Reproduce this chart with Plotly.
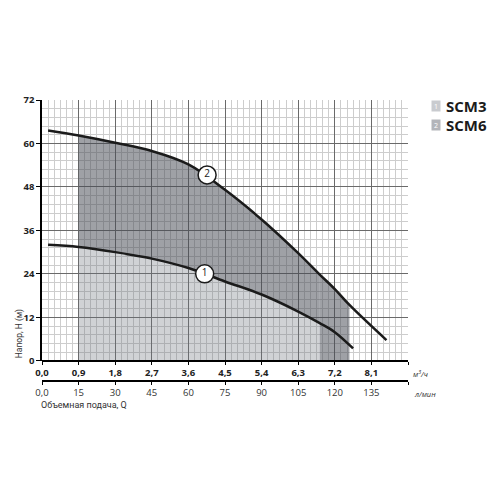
import numpy as np
import plotly.graph_objects as go

# pump curves, Q in m3/h, H in m
q_scm3 = [0.15, 0.9, 1.8, 2.7, 3.6, 4.5, 5.4, 6.3, 6.83, 7.2, 7.65]
h_scm3 = [32.0, 31.4, 30.0, 28.2, 25.6, 21.9, 18.3, 13.6, 10.4, 7.9, 3.4]

q_scm6 = [0.15, 0.9, 1.8, 2.7, 3.6, 4.5, 5.4, 6.3, 6.83, 7.2, 7.56, 8.47]
h_scm6 = [63.6, 62.2, 60.2, 57.9, 54.2, 47.2, 39.0, 29.7, 23.8, 19.8, 15.4, 5.7]

# working ranges (m3/h)
work_start = 0.9
work_end_scm3 = 6.83
work_end_scm6 = 7.56

# curve number labels
label_text = ["1", "2"]
label_q = [4.0, 4.06]
label_h = [24.0, 51.3]

# tick labels
q_ticks = [0, 0.9, 1.8, 2.7, 3.6, 4.5, 5.4, 6.3, 7.2, 8.1, 9.0]
q_labels = ["0,0", "0,9", "1,8", "2,7", "3,6", "4,5", "5,4", "6,3", "7,2", "8,1", " "]
lpm_ticks = [0, 15, 30, 45, 60, 75, 90, 105, 120, 135, 150]
lpm_labels = ["0,0", "15", "30", "45", "60", "75", "90", "105", "120", "135", " "]
h_ticks = [0, 12, 24, 36, 48, 60, 72]

series_names = ["SCM3", "SCM6"]

q1 = np.array(q_scm3)
h1 = np.array(h_scm3)
q2 = np.array(q_scm6)
h2 = np.array(h_scm6)

light = "rgba(110,115,125,0.32)"
dark = "rgba(70,75,85,0.52)"
FONT = "Open Sans"
SMALL = "Roboto"

fig = go.Figure()

# light area under curve 1
m1 = (q1 >= work_start) & (q1 <= work_end_scm3)
fig.add_trace(go.Scatter(x=q1[m1], y=h1[m1], mode="none", fill="tozeroy",
                         fillcolor=light, line_shape="spline", hoverinfo="skip"))
# dark area between the curves
fig.add_trace(go.Scatter(x=q1[m1], y=h1[m1], mode="lines", line=dict(width=0, shape="spline"),
                         hoverinfo="skip"))
m2 = (q2 >= work_start) & (q2 <= work_end_scm3)
fig.add_trace(go.Scatter(x=q2[m2], y=h2[m2], mode="lines", line=dict(width=0, shape="spline"),
                         fill="tonexty", fillcolor=dark, hoverinfo="skip"))
# dark tail under curve 2
m3 = (q2 >= work_end_scm3) & (q2 <= work_end_scm6)
fig.add_trace(go.Scatter(x=q2[m3], y=h2[m3], mode="lines", line=dict(width=0, shape="spline"),
                         fill="tozeroy", fillcolor=dark, hoverinfo="skip"))

# curves
for q, h in [(q1, h1), (q2, h2)]:
    fig.add_trace(go.Scatter(x=q, y=h, mode="lines",
                             line=dict(color="#1b1b1b", width=2.5, shape="spline"),
                             hoverinfo="skip"))

# numbered circles
fig.add_trace(go.Scatter(x=label_q, y=label_h, mode="markers+text", text=label_text,
                         textposition="middle center",
                         textfont=dict(family=FONT, size=10, color="#1b1b1b"),
                         marker=dict(size=18, color="white", line=dict(color="#1b1b1b", width=1.5)),
                         hoverinfo="skip"))

# l/min axis carrier
fig.add_trace(go.Scatter(x=q1 * 1000 / 60, y=h1, mode="none", xaxis="x2", hoverinfo="skip"))

p0 = (379.5 - 359.3) / 280.5

fig.update_layout(
    width=500, height=500,
    margin=dict(l=34, r=100, t=92, b=127),
    paper_bgcolor="white", plot_bgcolor="white",
    showlegend=False,
    font=dict(family=FONT, color="#222"),
    xaxis=dict(range=[0, 9], anchor="free", position=p0,
               tickmode="array", tickvals=q_ticks, ticktext=q_labels,
               tickfont=dict(size=9.5, weight="bold", color="#222"),
               showline=True, linecolor="black", linewidth=2,
               ticks="outside", ticklen=3, tickwidth=1.3, tickcolor="black",
               showgrid=True, gridcolor="#6a6a6a", gridwidth=1, zeroline=False,
               minor=dict(tick0=0, dtick=0.15, showgrid=True, gridcolor="#cdcdcd", gridwidth=1)),
    xaxis2=dict(range=[0, 150], overlaying="x", anchor="free", position=0, side="bottom",
                tickmode="array", tickvals=lpm_ticks, ticktext=lpm_labels,
                tickfont=dict(size=9.5, color="#333"),
                showline=True, linecolor="black", linewidth=1.5,
                ticks="outside", ticklen=3, tickwidth=1.3, tickcolor="black",
                showgrid=False, zeroline=False),
    yaxis=dict(range=[0, 72], domain=[p0, 1],
               tickmode="array", tickvals=h_ticks, ticktext=[str(v) for v in h_ticks],
               tickfont=dict(size=9.5, weight="bold", color="#222"),
               showline=True, linecolor="black", linewidth=1.5,
               ticks="outside", ticklen=4, tickwidth=1.3, tickcolor="black",
               showgrid=True, gridcolor="#6a6a6a", gridwidth=1, zeroline=False,
               minor=dict(tick0=0, dtick=2.4, showgrid=True, gridcolor="#cdcdcd", gridwidth=1)),
)


def px(x):
    return (x - 41) / 366


def py(y):
    return (379.5 - y) / 280.5


ann = [
    dict(x=px(18), y=p0, text="Напор, H (м)", textangle=-90, xanchor="center", yanchor="bottom",
         font=dict(family=SMALL, size=8.5, color="#333")),
    dict(x=px(38), y=py(403), text="Объемная подача, Q", xanchor="left", yanchor="middle",
         font=dict(family=SMALL, size=9, color="#333")),
    dict(x=px(410), y=py(372), text="<i>м<sup>3</sup>/ч</i>", xanchor="left", yanchor="middle",
         font=dict(size=7.5, color="#333")),
    dict(x=px(411), y=py(392), text="<i>л/мин</i>", xanchor="left", yanchor="middle",
         font=dict(size=7.5, color="#333")),
]
box_colors = ["#c9cbcf", "#b3b5ba"]
for i, name in enumerate(series_names):
    yy = py(105 + 19 * i)
    ann.append(dict(x=px(435), y=yy, text=str(i + 1), xanchor="center", yanchor="middle",
                    font=dict(size=7, color="white"), bgcolor=box_colors[i],
                    width=8, height=10, borderpad=0))
    ann.append(dict(x=px(443), y=yy, text=name, xanchor="left", yanchor="middle",
                    font=dict(size=15, weight="bold", color="#1b1b1b")))
for a in ann:
    a.update(xref="paper", yref="paper", showarrow=False)
fig.update_layout(annotations=ann)

fig.write_html("out.html")
